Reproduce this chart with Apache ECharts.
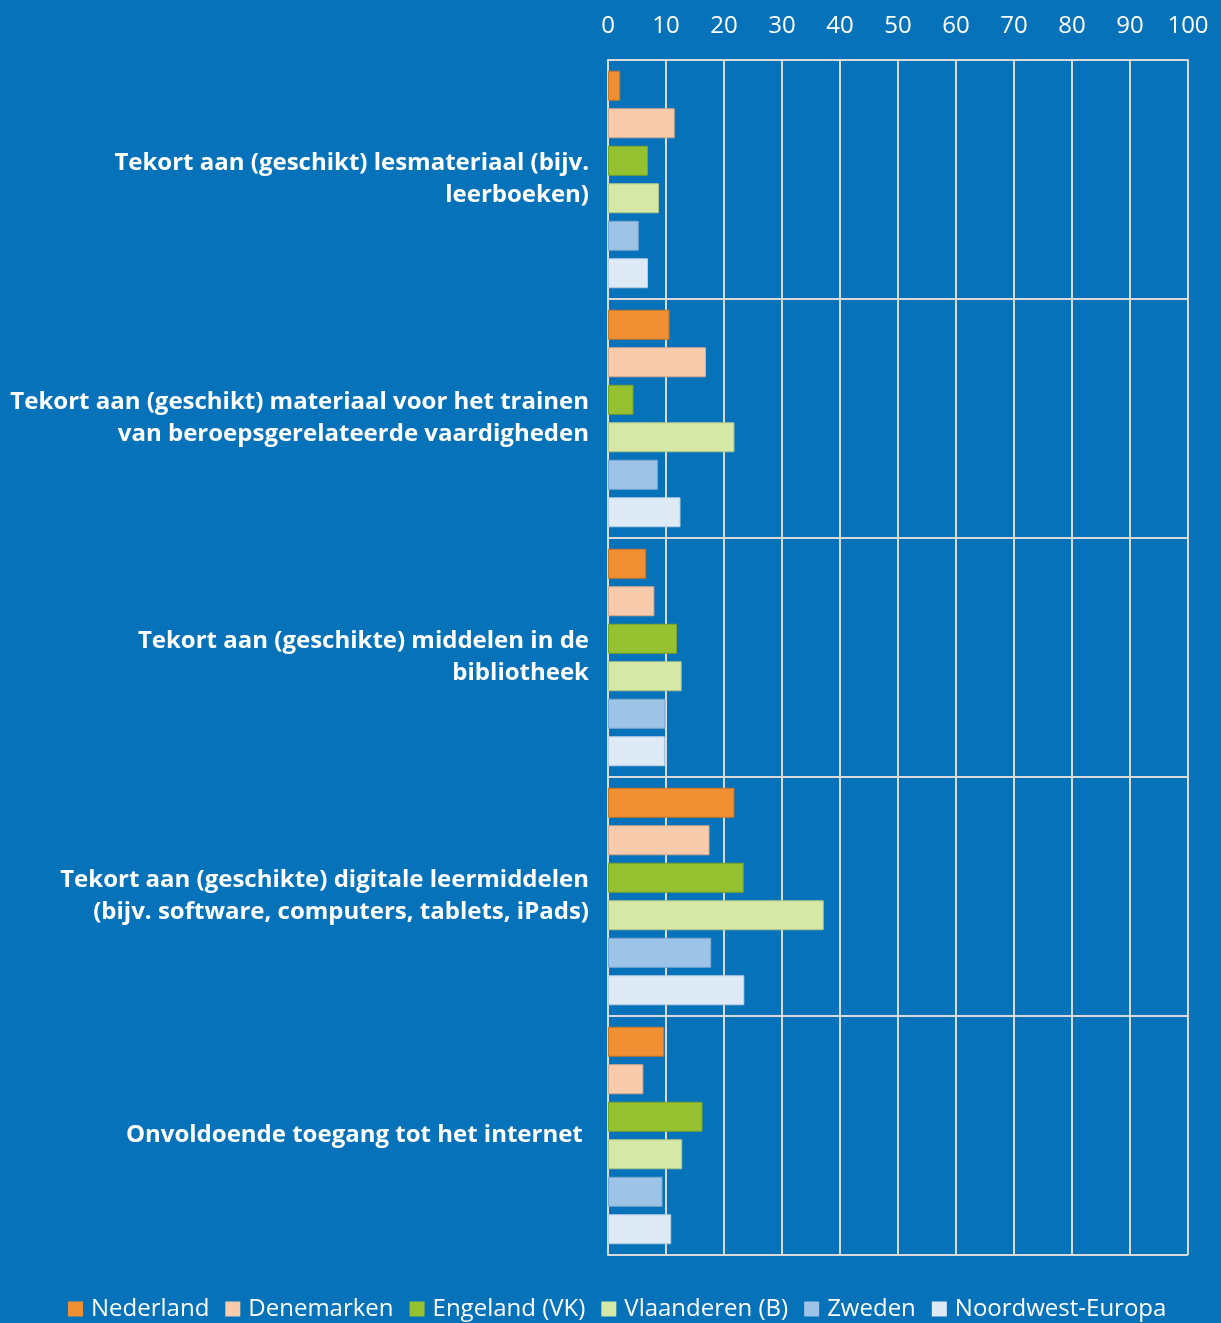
<!DOCTYPE html>
<html>
<head>
<meta charset="utf-8">
<script src="https://cdn.jsdelivr.net/npm/echarts@6/dist/echarts.min.js"></script>
<style>
  html, body { margin: 0; padding: 0; background: #0572b9; }
  #chart { width: 1221px; height: 1323px; }
</style>
</head>
<body>
<div id="chart"></div>
<script>
// categories (top to bottom)
const categories = [
  'Tekort aan (geschikt) lesmateriaal (bijv.\nleerboeken)',
  'Tekort aan (geschikt) materiaal voor het trainen\nvan beroepsgerelateerde vaardigheden',
  'Tekort aan (geschikte) middelen in de\nbibliotheek',
  'Tekort aan (geschikte) digitale leermiddelen\n(bijv. software, computers, tablets, iPads)',
  'Onvoldoende toegang tot het internet '
]

const seriesNames = ['Nederland', 'Denemarken', 'Engeland (VK)', 'Vlaanderen (B)', 'Zweden', 'Noordwest-Europa']

const nederland = [2.1, 10.6, 6.6, 21.8, 9.7]
const denemarken = [11.5, 16.9, 8.0, 17.5, 6.1]
const engeland = [6.9, 4.4, 11.9, 23.4, 16.3]
const vlaanderen = [8.8, 21.8, 12.7, 37.2, 12.8]
const zweden = [5.3, 8.6, 9.9, 17.8, 9.4]
const noordwest = [6.9, 12.5, 9.8, 23.5, 10.9]

const xTicks = [0, 10, 20, 30, 40, 50, 60, 70, 80, 90, 100]

const colors = ['#f09033', '#f8cbad', '#96c130', '#d5e8a5', '#9dc3e6', '#deebf7']
const borders = ['#c97526', '#d9a98a', '#7ca326', '#b3c68a', '#7fa8cf', '#b9cce0']
const values = [nederland, denemarken, engeland, vlaanderen, zweden, noordwest]

const chart = echarts.init(document.getElementById('chart'))

chart.setOption({
  backgroundColor: '#0572b9',
  textStyle: { fontFamily: 'Open Sans' },
  grid: { left: 608, right: 33, top: 60, bottom: 68, containLabel: false },
  legend: {
    top: 1292,
    left: 63,
    itemWidth: 15,
    itemHeight: 15,
    itemGap: 16,
    icon: 'rect',
    itemStyle: { borderWidth: 0 },
    textStyle: { color: '#ffffff', fontSize: 24, fontFamily: 'Open Sans', padding: [0, 0, 0, 3] },
    data: seriesNames
  },
  xAxis: {
    type: 'value',
    position: 'top',
    min: 0,
    max: 100,
    interval: 10,
    axisLine: { show: true, lineStyle: { color: '#d9d9d9', width: 2 } },
    axisTick: { show: false },
    axisLabel: {
      color: '#ffffff',
      fontSize: 24,
      fontFamily: 'Open Sans',
      margin: 22,
      formatter: v => xTicks.includes(v) ? String(v) : ''
    },
    splitLine: { show: true, lineStyle: { color: '#d9d9d9', width: 2 } }
  },
  yAxis: {
    type: 'category',
    inverse: true,
    data: categories,
    axisLine: { show: true, lineStyle: { color: '#d9d9d9', width: 2 } },
    axisTick: { show: false },
    axisLabel: {
      color: '#ffffff',
      fontSize: 24,
      fontWeight: 'bold',
      fontFamily: 'Open Sans',
      lineHeight: 32,
      margin: 19,
      align: 'right'
    },
    splitLine: { show: true, lineStyle: { color: '#d9d9d9', width: 2 } }
  },
  series: seriesNames.map((name, i) => ({
    name: name,
    type: 'bar',
    data: values[i],
    barWidth: 30,
    barGap: '25%',
    itemStyle: { color: colors[i], borderColor: borders[i], borderWidth: 1 }
  }))
})
</script>
</body>
</html>
